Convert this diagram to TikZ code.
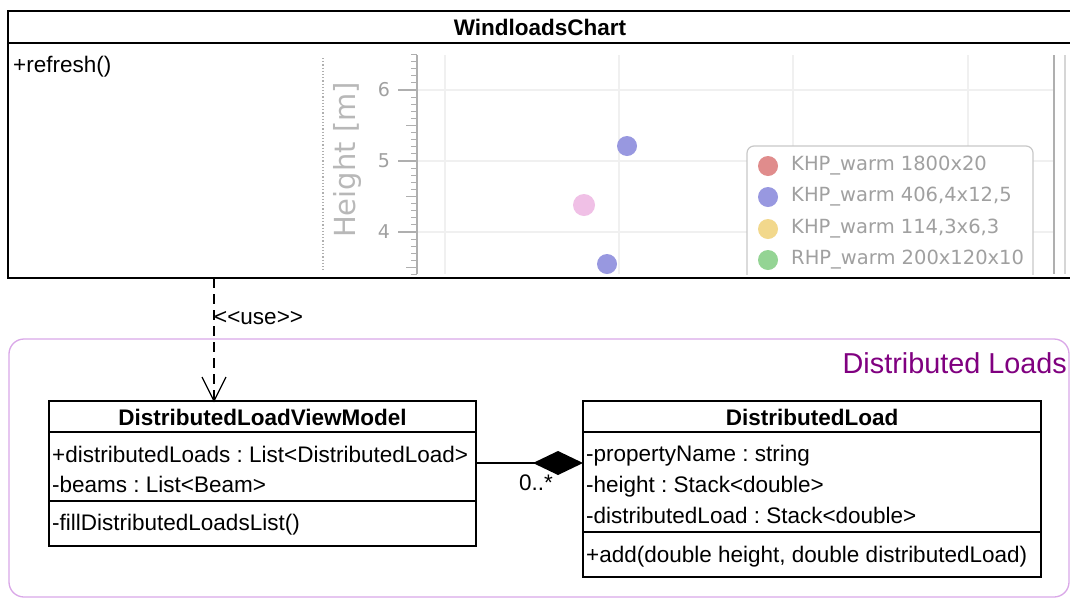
\documentclass[tikz,border=0pt]{standalone}
\usepackage{fontspec}
\setmainfont{Liberation Sans}
\newfontfamily\chartfont{DejaVu Sans}
\usetikzlibrary{arrows.meta,calc}

\definecolor{pkgline}{RGB}{218,168,232}
\definecolor{pkgtext}{RGB}{128,0,128}
\definecolor{gridc}{RGB}{240,240,240}
\definecolor{axisc}{RGB}{175,175,175}
\definecolor{charttext}{RGB}{160,160,160}
\definecolor{legendline}{RGB}{200,200,200}
\definecolor{dotred}{RGB}{224,140,140}
\definecolor{dotblue}{RGB}{152,152,224}
\definecolor{dotyellow}{RGB}{242,216,140}
\definecolor{dotgreen}{RGB}{148,212,148}
\definecolor{dotpink}{RGB}{240,192,230}

\tikzset{
  umlfont/.style={font=\fontsize{22.5}{27}\selectfont},
  classbox/.style={draw=black, line width=1.6pt, fill=white, anchor=north west,
                   inner sep=0pt, outer sep=0pt},
  member/.style={anchor=base west, inner sep=0pt, umlfont},
  classtitle/.style={anchor=base, inner sep=0pt, font=\fontsize{22.5}{27}\selectfont\bfseries},
  sepline/.style={line width=1.6pt},
  depline/.style={line width=1.3pt, dash pattern=on 10pt off 6pt},
  openhead/.style={line width=1.3pt, solid, line join=miter},
  compline/.style={line width=1.5pt, -{Diamond[length=50pt,width=24pt]}},
  pkgframe/.style={draw=pkgline, line width=1.3pt, rounded corners=15pt},
  gridline/.style={draw=gridc, line width=1.8pt},
  chartlabel/.style={inner sep=0pt, text=charttext, font=\chartfont\fontsize{19}{22}\selectfont},
  legendtext/.style={anchor=west, inner sep=0pt, text=charttext,
                     font=\chartfont\fontsize{19.5}{23}\selectfont},
  dot/.style={circle, inner sep=0pt, minimum size=20pt},
}

\begin{document}
\frenchspacing
\begin{tikzpicture}[x=1pt,y=-1pt]
\clip (0,0) rectangle (1070,598);
\fill[white] (0,0) rectangle (1070,598);

% ---------- package frame ----------
\draw[pkgframe] (9,339) rectangle (1069,597);
\node[anchor=base east, inner sep=0pt, text=pkgtext,
      font=\fontsize{28.8}{33}\selectfont] (pkgname) at (1067,373) {Distributed Loads};

% ---------- WindloadsChart class ----------
\node[classbox, minimum width=1080pt, minimum height=267pt] (wc) at (8,11) {};
\draw[sepline] ([yshift=-32pt]wc.north west) -- ([yshift=-32pt]wc.north east);
\node[classtitle] (wctitle) at (540,35) {WindloadsChart};
\node[member] (wcrefresh) at (13,72) {+refresh()};

% embedded chart
\begin{scope}
  \clip (300,45) rectangle (1067,274);
  % grid
  \foreach \yy in {90,161,232} \draw[gridline] (417,\yy) -- (1054,\yy);
  \foreach \xx in {445,619,793,968} \draw[gridline] (\xx,55) -- (\xx,274);
  % frame lines on the right
  \draw[axisc, line width=1.3pt] (1054,55) -- (1054,274);
  \draw[gridc!60!axisc, line width=1.3pt] (1065,55) -- (1065,274);
  % y axis with ticks
  \draw[axisc, line width=1.5pt] (417,55) -- (417,274);
  \foreach \i in {-5,...,26} \draw[axisc, line width=1pt] (411,{90+\i*7.1}) -- (417,{90+\i*7.1});
  \foreach \yy in {125.5,196.5,267.5} \draw[axisc, line width=1.2pt] (406,\yy) -- (417,\yy);
  \foreach \yy in {90,161,232} \draw[axisc, line width=1.5pt] (398,\yy) -- (417,\yy);
  \node[chartlabel] (tick6) at (384,90) {6};
  \node[chartlabel] (tick5) at (384,161) {5};
  \node[chartlabel] (tick4) at (384,232) {4};
  \draw[axisc, line width=1.2pt, dotted] (323,58) -- (323,270);
  \node[chartlabel, rotate=90, text=charttext!75,
        font=\chartfont\fontsize{29}{33}\selectfont] (ylabel) at (347,160) {Height [m]};
  % data points
  \node[dot, fill=dotblue] (p1) at (627,146) {};
  \node[dot, fill=dotpink, minimum size=22pt] (p2) at (584,205) {};
  \node[dot, fill=dotblue] (p3) at (607,264) {};
  % legend
  \draw[draw=legendline, line width=1.2pt, fill=white, rounded corners=7pt]
        (747,146) rectangle (1033,310);
  \node[dot, fill=dotred] (l1) at (768,166) {};
  \node[dot, fill=dotblue] (l2) at (768,197) {};
  \node[dot, fill=dotyellow] (l3) at (768,229) {};
  \node[dot, fill=dotgreen] (l4) at (768,260) {};
  \node[legendtext] (t1) at (791,166) {KHP\_warm 1800x20};
  \node[legendtext] (t2) at (791,197) {KHP\_warm 406,4x12,5};
  \node[legendtext] (t3) at (791,229) {KHP\_warm 114,3x6,3};
  \node[legendtext] (t4) at (791,260) {RHP\_warm 200x120x10};
\end{scope}
\draw[line width=1.6pt] (8,278) -- (1070,278);

% ---------- DistributedLoadViewModel class ----------
\node[classbox, minimum width=427pt, minimum height=145pt] (dlvm) at (49,401) {};
\draw[sepline] ([yshift=-31pt]dlvm.north west) -- ([yshift=-31pt]dlvm.north east);
\draw[sepline] ([yshift=-100pt]dlvm.north west) -- ([yshift=-100pt]dlvm.north east);
\node[classtitle] (dlvmtitle) at (262.5,425) {DistributedLoadViewModel};
\node[member] (dlvma1) at (52,462) {+distributedLoads : List<DistributedLoad>};
\node[member] (dlvma2) at (52,492) {-beams : List<Beam>};
\node[member] (dlvmm1) at (52,530) {-fillDistributedLoadsList()};

% ---------- DistributedLoad class ----------
\node[classbox, minimum width=458pt, minimum height=176pt] (dl) at (583,401) {};
\draw[sepline] ([yshift=-31pt]dl.north west) -- ([yshift=-31pt]dl.north east);
\draw[sepline] ([yshift=-131pt]dl.north west) -- ([yshift=-131pt]dl.north east);
\node[classtitle] (dltitle) at (812,425) {DistributedLoad};
\node[member] (dla1) at (586,461) {-propertyName : string};
\node[member] (dla2) at (586,492) {-height : Stack<double>};
\node[member] (dla3) at (586,523) {-distributedLoad : Stack<double>};
\node[member] (dlm1) at (586,562) {+add(double height, double distributedLoad)};

% ---------- relations ----------
\coordinate (deptip) at ([xshift=165pt]dlvm.north west);
\draw[depline] ([xshift=206pt]wc.south west) -- (deptip);
\draw[openhead] ([shift={(-12pt,24pt)}]deptip) -- (deptip) -- ([shift={(12pt,24pt)}]deptip);
\node[member] (uselabel) at (214,324) {<{}<use>{}>};

\draw[compline] ([yshift=-62pt]dlvm.north east) -- ([yshift=-62pt]dl.north west);
\node[member] (mult) at (519,490) {0..*};
\end{tikzpicture}
\end{document}
